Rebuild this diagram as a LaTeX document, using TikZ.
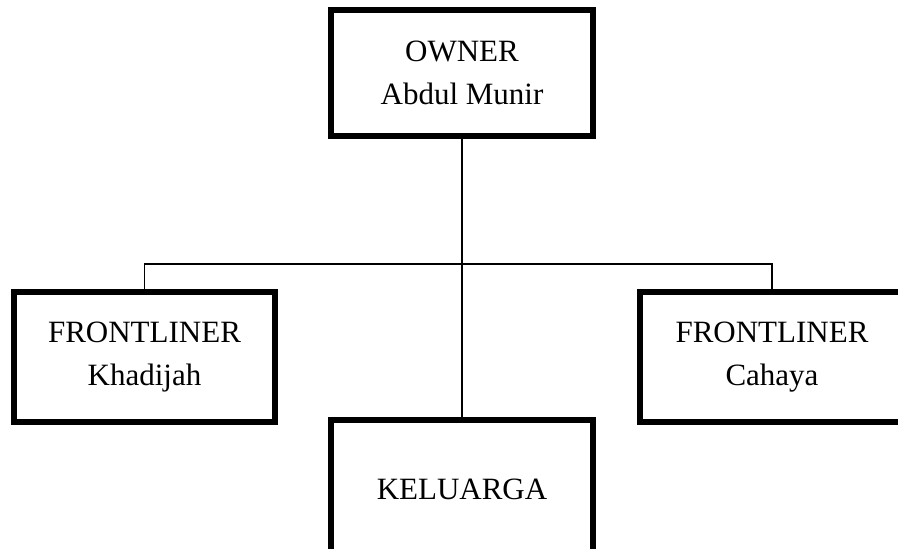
\documentclass[tikz,border=0pt]{standalone}
\usepackage{fontspec}
\setmainfont{Liberation Serif}
\usepackage{tikz}
\tikzset{
  org_node/.style = {align=center, inner sep=0pt, text centered,
    font=\fontsize{31}{43}\selectfont, rectangle, draw=black,
    line width=5.5pt},% kotak jabatan
  link_line/.style = {draw=black, line width=1.2pt},% garis cabang
  main_line/.style = {draw=black, line width=2pt}% garis utama
}

\begin{document}
\begin{tikzpicture}[x=1pt, y=-1pt]
      \clip (0,0) rectangle (898,549);
      \node [org_node, minimum width=262pt, minimum height=126pt]
        (owner) at (462,73) {OWNER\\Abdul Munir};
      \node [org_node, minimum width=261pt, minimum height=130pt]
        (front_left) at (144.5,357) {FRONTLINER\\Khadijah};
      \node [org_node, minimum width=264pt, minimum height=130pt]
        (front_right) at (772,357) {FRONTLINER\\Cahaya};
      \node [org_node, minimum width=262pt, minimum height=138pt]
        (family) at (462,489) {KELUARGA};
      \coordinate (branch) at (462,264);
      \draw [main_line] (owner.south) -- (family.north);
      \draw [link_line] (front_left.north) |- (branch) -| (front_right.north);
    \end{tikzpicture}
\end{document}
